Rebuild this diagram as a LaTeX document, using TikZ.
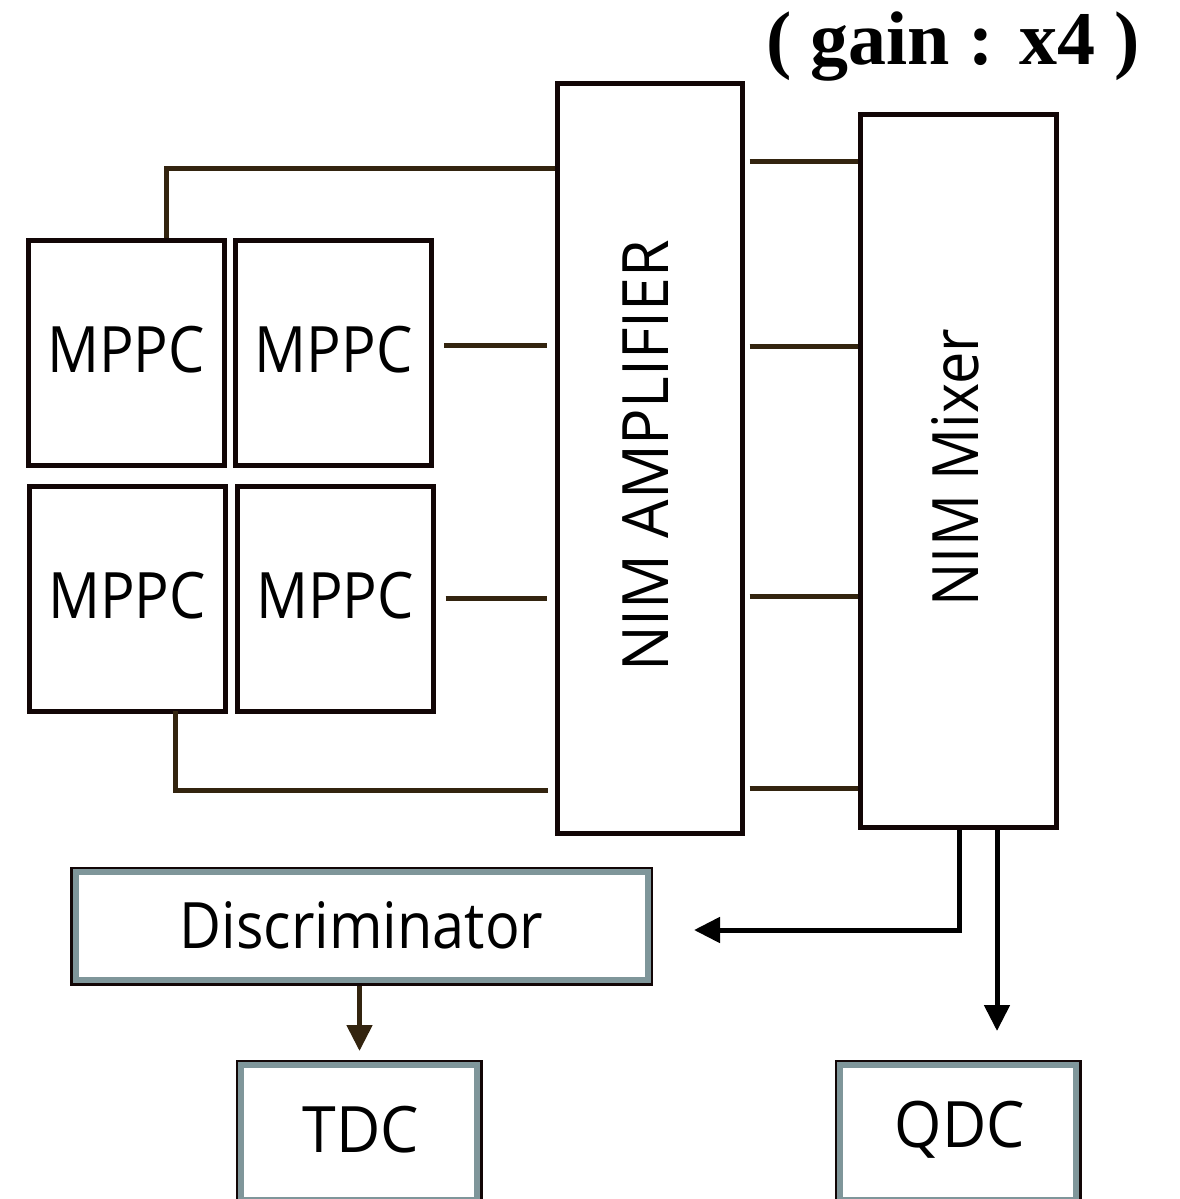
\documentclass[tikz,border=0pt]{standalone}
\usepackage{fontspec}
\usetikzlibrary{arrows.meta,calc}
\newfontfamily\lblfont[FakeStretch=0.9]{Open Sans}
\newfontfamily\widefont[FakeStretch=0.95]{Open Sans}
\newfontfamily\gainfont{Liberation Serif}
\definecolor{wirebrown}{HTML}{33240F}
\definecolor{edgeblack}{HTML}{120606}
\definecolor{rimgray}{HTML}{7F969A}
\tikzset{
  box/.style={draw=edgeblack, line width=5pt, inner sep=0pt, fill=white},
  mppc/.style={box, minimum width=196pt, minimum height=225pt, text depth=7pt,
    font=\lblfont\fontsize{64}{64}\selectfont},
  unitbox/.style={draw=edgeblack, line width=5pt, inner sep=0pt, fill=white},
  rim/.style={draw=rimgray, line width=6pt},
  vlabel/.style={rotate=90, inner sep=0pt, font=\widefont\fontsize{64}{64}\selectfont},
  wire/.style={draw=wirebrown, line width=5pt},
  sigline/.style={draw=black, line width=5pt},
  tip/.style={-{Triangle[length=26pt,width=25pt]}},
}
\begin{document}
\begin{tikzpicture}[x=1pt,y=-1pt]
  \useasboundingbox (0,0) rectangle (1180,1199);

  % gain annotation
  \node[anchor=base, inner sep=0pt, font=\gainfont\bfseries\fontsize{76}{76}\selectfont]
    (gain) at (953,64) {( gain : x4 )};

  % four photosensors
  \node[mppc] (tl) at (126,352.5) {MPPC};
  \node[mppc] (tr) at (333.5,352.5) {MPPC};
  \node[mppc] (bl) at (127,599) {MPPC};
  \node[mppc] (br) at (335,599) {MPPC};

  % amplifier and mixer modules
  \node[box, minimum width=185pt, minimum height=750pt] (amp) at (649.5,458) {};
  \node[vlabel] at ([xshift=-4pt,yshift=2pt]amp.center) {NIM AMPLIFIER};
  \node[box, minimum width=196pt, minimum height=713pt] (mix) at (958,470.5) {};
  \node[vlabel, font=\lblfont\fontsize{64}{64}\selectfont] at ([xshift=-3pt,yshift=3pt]mix.center) {NIM Mixer};

  % sensor cables into the amplifier
  \coordinate (topbus) at (166,168);
  \coordinate (lowbus) at (175,790);
  \draw[wire] ([xshift=40pt]tl.north) |- (topbus -| amp.west);
  \draw[wire] ([xshift=10pt,yshift=7.5pt]tr.east) -- ([xshift=-8pt]amp.west |- 0,345);
  \draw[wire] ([xshift=10pt,yshift=1pt]br.east) -- ([xshift=-8pt]amp.west |- 0,598);
  \draw[wire] ([xshift=48pt,yshift=3pt]bl.south) |- ([xshift=-7pt]amp.west |- lowbus);

  % amplifier outputs into the mixer
  \foreach \yy in {161,346,596,788}
    \draw[wire] ([xshift=5pt]amp.east |- 0,\yy) -- (mix.west |- 0,\yy);

  % readout chain
  \node[unitbox, minimum width=578pt, minimum height=114pt] (disc) at (361.5,926) {};
  \draw[rim] ([shift={(5.5pt,-5.5pt)}]disc.north west) rectangle ([shift={(-5.5pt,5.5pt)}]disc.south east);
  \node[font=\lblfont\fontsize{64}{64}\selectfont] at ([yshift=1pt]disc.center) {Discriminator};

  \node[unitbox, minimum width=242pt, minimum height=141pt, anchor=north] (tdc) at (359,1059.5) {};
  \draw[rim] ([shift={(5.5pt,-5.5pt)}]tdc.north west) rectangle ([shift={(-5.5pt,5.5pt)}]tdc.south east);
  \node[font=\widefont\fontsize{64}{64}\selectfont] at (361,1130) {TDC};

  \node[unitbox, minimum width=242pt, minimum height=141pt, anchor=north] (qdc) at (958,1059.5) {};
  \draw[rim] ([shift={(5.5pt,-5.5pt)}]qdc.north west) rectangle ([shift={(-5.5pt,5.5pt)}]qdc.south east);
  \node[font=\widefont\fontsize{64}{64}\selectfont] at (960,1130) {QDC};

  % mixer outputs and trigger path
  \coordinate (disctip) at (694,930);
  \coordinate (qdctip) at (997,1031);
  \coordinate (tdctip) at (359.5,1051);
  \draw[sigline, tip] ([xshift=1pt]mix.south) |- (disctip);
  \draw[sigline, tip] ([xshift=39pt]mix.south) -- (qdctip);
  \draw[wire, tip] (disc.south -| tdctip) -- (tdctip);
\end{tikzpicture}
\end{document}
